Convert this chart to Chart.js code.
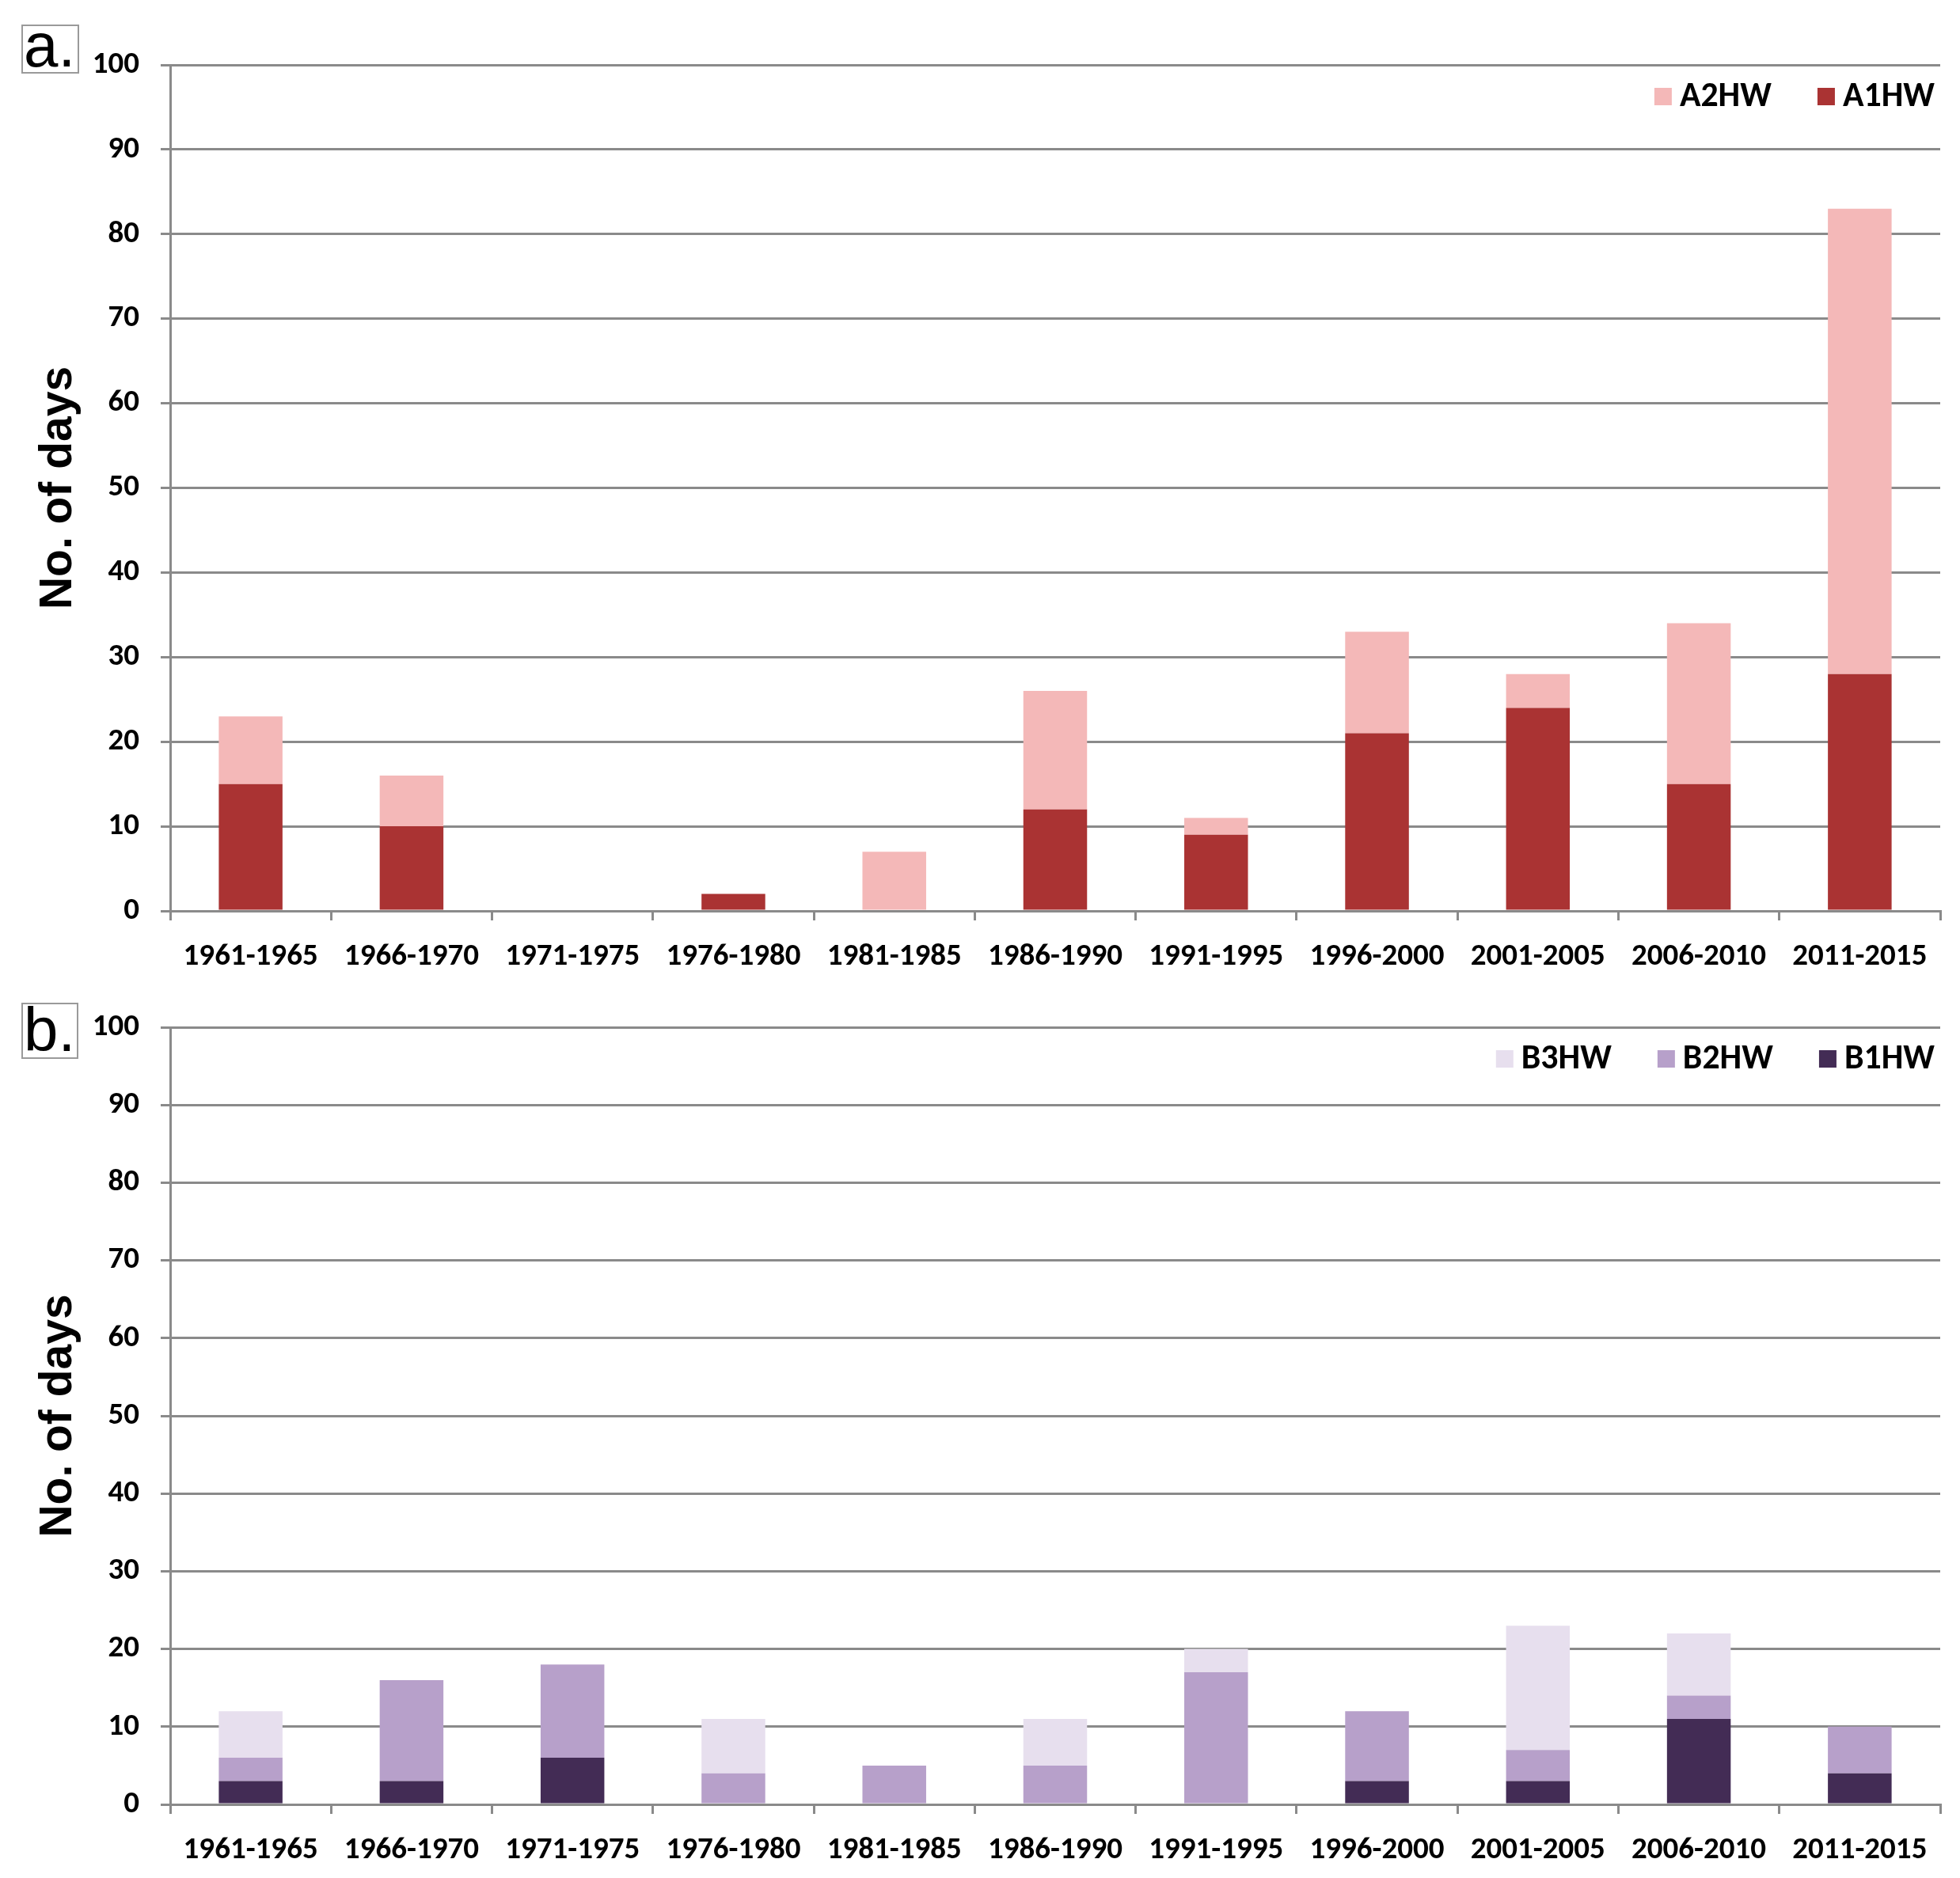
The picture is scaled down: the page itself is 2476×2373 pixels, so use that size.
<!DOCTYPE html>
<html>
<head>
<meta charset="utf-8">
<script src="https://cdn.jsdelivr.net/npm/chart.js@4"></script>
<style>
  html, body { margin: 0; padding: 0; background: #ffffff; }
  body { width: 2476px; height: 2373px; position: relative; overflow: hidden; }
  .panel { position: absolute; left: 0; width: 2476px; }
  #pa { top: 0; height: 1260px; }
  #pb { top: 1260px; height: 1113px; }
</style>
</head>
<body>
<div class="panel" id="pa"><canvas id="ca"></canvas></div>
<div class="panel" id="pb"><canvas id="cb"></canvas></div>
<script>
// ---- data ----
const categories = ['1961-1965','1966-1970','1971-1975','1976-1980','1981-1985','1986-1990','1991-1995','1996-2000','2001-2005','2006-2010','2011-2015'];
const A1HW = [15, 10, 0, 2, 0, 12, 9, 21, 24, 15, 28];
const A2HW = [8, 6, 0, 0, 7, 14, 2, 12, 4, 19, 55];
const B1HW = [3, 3, 6, 0, 0, 0, 0, 3, 3, 11, 4];
const B2HW = [3, 13, 12, 4, 5, 5, 17, 9, 4, 3, 6];
const B3HW = [6, 0, 0, 7, 0, 6, 3, 0, 16, 8, 0];
const yTicks = [0, 10, 20, 30, 40, 50, 60, 70, 80, 90, 100];
const yTitle = 'No. of days';

const GRID = '#8a8a8a';

// ---- font helpers ----
const mctx = document.createElement('canvas').getContext('2d');
function hasFont(f) {
  const t = 'mmmmmwwwlli1961-1965QAB';
  for (const base of ['monospace', 'serif']) {
    mctx.font = '72px ' + base; const a = mctx.measureText(t).width;
    mctx.font = "72px '" + f + "', " + base; const b = mctx.measureText(t).width;
    if (a !== b) return true;
  }
  return false;
}
function pick(list) { for (const f of list) if (hasFont(f)) return "'" + f + "', sans-serif"; return 'sans-serif'; }
function fitSize(family, weight, text, targetW) {
  mctx.font = weight + ' 100px ' + family;
  return Math.round(100 * targetW / mctx.measureText(text).width * 10) / 10;
}
const TICK_FONT = pick(['Liberation Sans Narrow', 'Carlito', 'Lato', 'Roboto', 'Open Sans', 'Liberation Sans', 'DejaVu Sans']);
const TITLE_FONT = pick(['Liberation Sans', 'Roboto', 'DejaVu Sans']);
const LETTER_FONT = pick(['Liberation Sans', 'Open Sans', 'DejaVu Sans']);
const TICK_SIZE = Math.min(44, fitSize(TICK_FONT, 'bold', '1961-1965', 170));
const LEG_SIZE = Math.min(46, fitSize(TICK_FONT, 'bold', 'A2HW', 116));

const panelDecor = {
  id: 'panelDecor',
  afterDraw(chart, args, opts) {
    const ctx = chart.ctx;
    const ca = chart.chartArea;
    ctx.save();
    ctx.strokeStyle = '#9a9a9a';
    ctx.lineWidth = 2;
    ctx.strokeRect(opts.box[0], opts.box[1], opts.box[2], opts.box[3]);
    ctx.fillStyle = '#000';
    ctx.font = '78px ' + LETTER_FONT;
    ctx.textBaseline = 'alphabetic';
    ctx.textAlign = 'left';
    ctx.fillText(opts.letter, opts.letterPos[0], opts.letterPos[1]);
    // legend (reverse dataset order), right aligned inside chart area
    ctx.font = 'bold ' + LEG_SIZE + 'px ' + TICK_FONT;
    ctx.textBaseline = 'middle';
    const items = chart.data.datasets.slice().reverse();
    const box = 22, gapBT = 10, gapItem = 58;
    const widths = items.map(d => box + gapBT + ctx.measureText(d.label).width);
    const total = widths.reduce((a, b) => a + b, 0) + gapItem * (items.length - 1);
    let x = ca.right - 7 - total;
    const yc = ca.top + 40;
    items.forEach((d, i) => {
      ctx.fillStyle = d.backgroundColor;
      ctx.fillRect(x, yc - box / 2, box, box);
      ctx.fillStyle = '#000';
      ctx.fillText(d.label, x + box + gapBT, yc + 1);
      x += widths[i] + gapItem;
    });
    ctx.restore();
  }
};

function makeChart(id, datasets, padTop, padBottom, decor) {
  return new Chart(document.getElementById(id), {
    type: 'bar',
    data: { labels: categories, datasets },
    plugins: [panelDecor],
    options: {
      responsive: true,
      maintainAspectRatio: false,
      animation: false,
      devicePixelRatio: 1,
      layout: { padding: { left: 36, right: 25, top: padTop, bottom: padBottom } },
      datasets: { bar: { categoryPercentage: 1.0, barPercentage: 0.396, borderWidth: 0 } },
      plugins: {
        legend: { display: false },
        tooltip: { enabled: false },
        panelDecor: decor
      },
      scales: {
        x: {
          stacked: true,
          afterFit(s) { s.height = 90; s.paddingLeft = 0; s.paddingRight = 0; },
          grid: { display: true, drawOnChartArea: false, drawTicks: true, tickLength: 12, color: GRID, lineWidth: 3, offset: true },
          border: { display: true, color: GRID, width: 3 },
          ticks: { color: '#000', font: { family: TICK_FONT, size: TICK_SIZE, weight: 'bold' }, padding: 23, maxRotation: 0, autoSkip: false }
        },
        y: {
          stacked: true,
          min: 0, max: 100,
          afterFit(s) { s.width = 179; s.paddingTop = 0; s.paddingBottom = 0; },
          afterBuildTicks(s) { s.ticks = yTicks.map(v => ({ value: v })); },
          grid: { color: GRID, lineWidth: 3, tickLength: 12, drawTicks: true },
          border: { display: true, color: GRID, width: 3 },
          ticks: { color: '#000', font: { family: TICK_FONT, size: TICK_SIZE, weight: 'bold' }, padding: 27 },
          title: { display: true, text: yTitle, color: '#000', font: { family: TITLE_FONT, size: 57, weight: 'bold' }, padding: { top: 4, bottom: 4 } }
        }
      }
    }
  });
}

makeChart('ca', [
  { label: 'A1HW', data: A1HW, backgroundColor: '#AA3333' },
  { label: 'A2HW', data: A2HW, backgroundColor: '#F4B8B8' }
], 82, 19, { letter: 'a.', box: [28, 32, 71, 60], letterPos: [30, 84] });

makeChart('cb', [
  { label: 'B1HW', data: B1HW, backgroundColor: '#432C55' },
  { label: 'B2HW', data: B2HW, backgroundColor: '#B7A0CA' },
  { label: 'B3HW', data: B3HW, backgroundColor: '#E7DFEE' }
], 38, 3, { letter: 'b.', box: [28, 8, 70, 69], letterPos: [30, 68] });
</script>
</body>
</html>
